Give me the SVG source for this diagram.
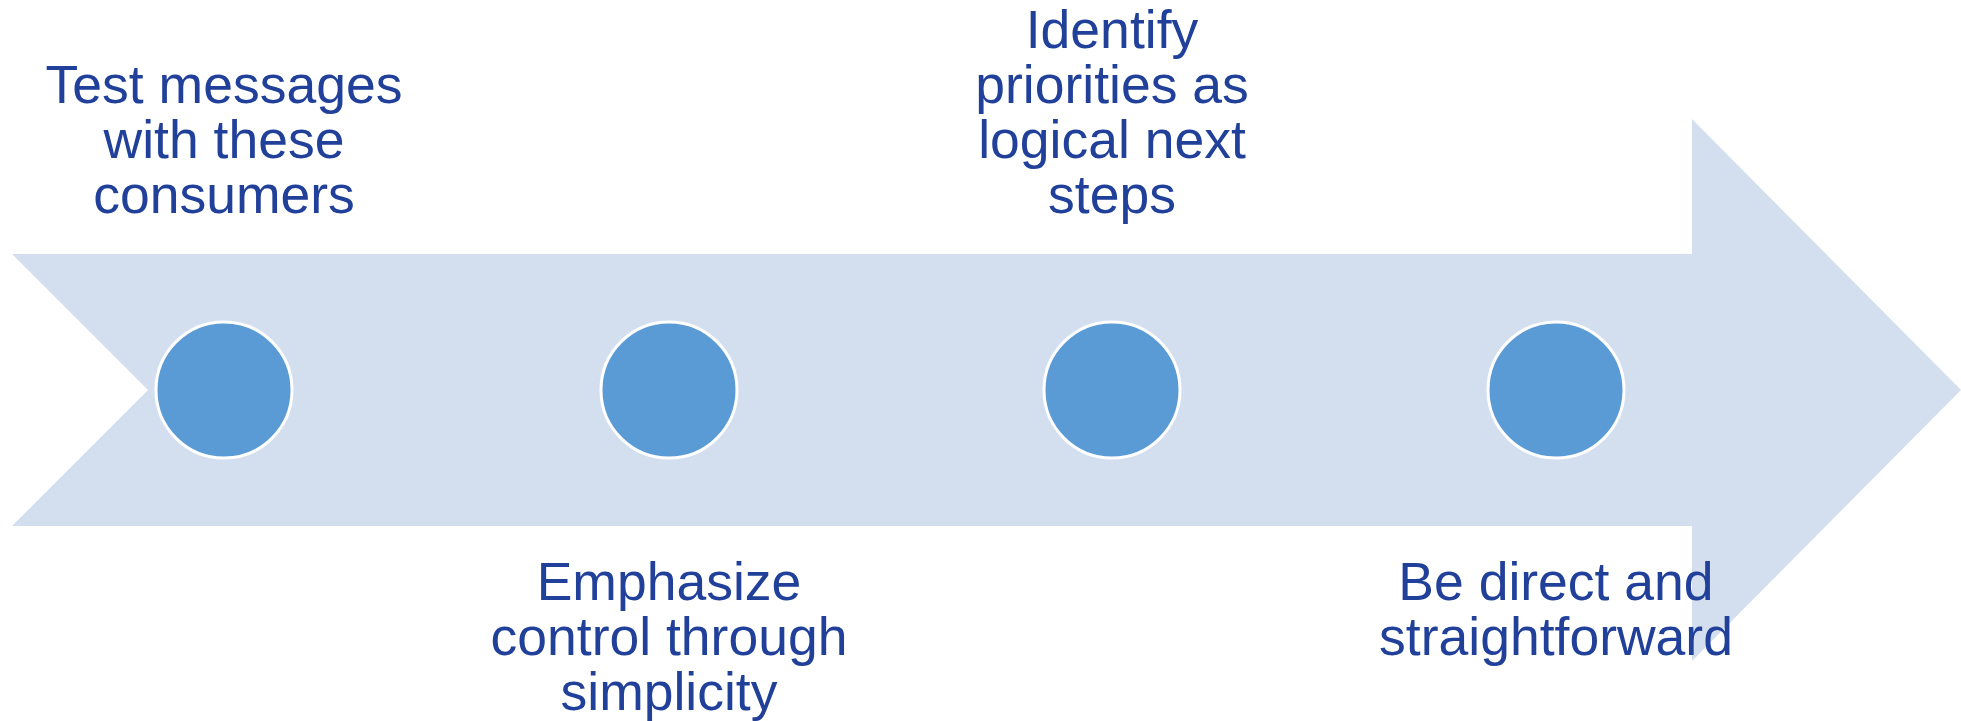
<svg xmlns="http://www.w3.org/2000/svg" width="1961" height="721" viewBox="0 0 1961 721">
<style>
.lbl{font-family:"Liberation Sans",Arial,sans-serif;font-size:53.5px;fill:#21409A;text-anchor:middle}
.dot{fill:#5B9BD5;stroke:#FFFFFF;stroke-width:3}
</style>
<rect width="1961" height="721" fill="#FFFFFF"/>
<g id="arrow">
<polygon points="12,254 1692,254 1692,119 1961,390 1692,661 1692,526 12,526 148,390" fill="#D3DEEF"/>
</g>
<g id="connectors"></g>
<g id="node1">
<circle class="dot" cx="224" cy="390" r="68"/>
<text class="lbl"><tspan x="224" y="103">Test messages</tspan><tspan x="224" y="158">with these</tspan><tspan x="224" y="213">consumers</tspan></text>
</g>
<g id="node2">
<circle class="dot" cx="669" cy="390" r="68"/>
<text class="lbl"><tspan x="669" y="600">Emphasize</tspan><tspan x="669" y="655">control through</tspan><tspan x="669" y="710">simplicity</tspan></text>
</g>
<g id="node3">
<circle class="dot" cx="1112" cy="390" r="68"/>
<text class="lbl"><tspan x="1112" y="48">Identify</tspan><tspan x="1112" y="103">priorities as</tspan><tspan x="1112" y="158">logical next</tspan><tspan x="1112" y="213">steps</tspan></text>
</g>
<g id="node4">
<circle class="dot" cx="1556" cy="390" r="68"/>
<text class="lbl"><tspan x="1556" y="600">Be direct and</tspan><tspan x="1556" y="655">straightforward</tspan></text>
</g>
</svg>
